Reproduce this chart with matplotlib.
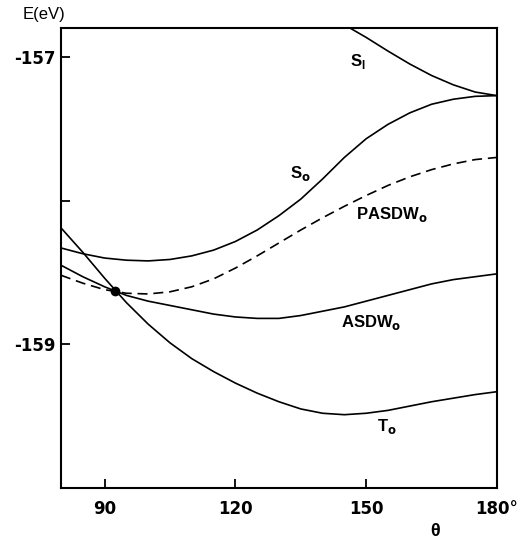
import numpy as np
import matplotlib
matplotlib.use('Agg')
from matplotlib import pyplot as plt

### data
theta = [80, 85, 90, 95, 100, 105, 110, 115, 120, 125, 130, 135,
         140, 145, 150, 155, 160, 165, 170, 175, 180]

T0 = [-158.19, -158.36, -158.54, -158.71, -158.86, -158.99, -159.10, -159.19,
      -159.27, -159.34, -159.40, -159.45, -159.48, -159.49, -159.48, -159.46,
      -159.43, -159.40, -159.375, -159.35, -159.33]

ASDW0 = [-158.45, -158.53, -158.60, -158.66, -158.70, -158.73, -158.76, -158.79,
         -158.81, -158.82, -158.82, -158.80, -158.77, -158.74, -158.70, -158.66,
         -158.62, -158.58, -158.55, -158.53, -158.51]

PASDW0 = [-158.52, -158.575, -158.62, -158.645, -158.65, -158.635, -158.60, -158.545,
          -158.47, -158.385, -158.295, -158.205, -158.12, -158.04, -157.965, -157.895,
          -157.835, -157.785, -157.745, -157.715, -157.70]

S0 = [-158.33, -158.37, -158.40, -158.415, -158.42, -158.41, -158.385, -158.345,
      -158.285, -158.205, -158.105, -157.99, -157.85, -157.70, -157.57, -157.47,
      -157.39, -157.33, -157.295, -157.275, -157.27]

theta_S1 = [146.3, 150, 155, 160, 165, 170, 175, 180]
S1 = [-156.80, -156.865, -156.96, -157.05, -157.13, -157.195, -157.245, -157.27]

cross = (92.4, -158.63)

xticks = [90, 120, 150, 180]
xticklabels = ['90', '120', '150', '180°']
yticks = [-159, -158, -157]
yticklabels = ['-159', '', '-157']

### plot
plt.rcParams['font.family'] = ['Liberation Sans', 'DejaVu Sans']
fig = plt.figure(figsize=(5.24, 5.43), dpi=100)
ax = fig.add_axes([0.1164, 0.1013, 0.832, 0.847])

lw = 1.2
ax.plot(theta, T0, color='black', lw=lw)
ax.plot(theta, ASDW0, color='black', lw=lw)
ax.plot(theta, PASDW0, color='black', lw=lw, linestyle=(0, (6, 3.5)))
ax.plot(theta, S0, color='black', lw=lw)
ax.plot(theta_S1, S1, color='black', lw=lw)
ax.plot(*cross, 'o', color='black', markersize=6)

ax.set_xlim(80, 180)
ax.set_ylim(-160, -156.8)
ax.set_xticks(xticks)
ax.set_xticklabels(xticklabels, fontsize=12, fontweight='bold', family='DejaVu Sans')
ax.set_yticks(yticks)
ax.set_yticklabels(yticklabels, fontsize=12, fontweight='bold', family='DejaVu Sans')
ax.tick_params(direction='in', length=6.5, width=1.3)
ax.tick_params(axis='x', pad=9)
ax.tick_params(axis='y', pad=4)
for s in ax.spines.values():
    s.set_linewidth(1.5)

lab = dict(fontsize=12, fontweight='bold', ha='center', va='center')
ax.text(148.1, -157.03, r'S$_\mathregular{I}$', **lab)
ax.text(134.8, -157.81, r'S$_\mathbf{o}$', **lab)
ax.text(155.9, -158.10, r'PASDW$_\mathbf{o}$', **lab)
ax.text(151.1, -158.85, r'ASDW$_\mathbf{o}$', **lab)
ax.text(154.8, -159.57, r'T$_\mathbf{o}$', **lab)

fig.text(44 / 524, 1 - 14 / 543, 'E(eV)', fontsize=12, ha='center', va='center')
fig.text(435 / 524, 1 - 531 / 543, 'θ', fontsize=13, fontweight='bold',
         ha='center', va='center')

plt.savefig('out.png', dpi=100)
